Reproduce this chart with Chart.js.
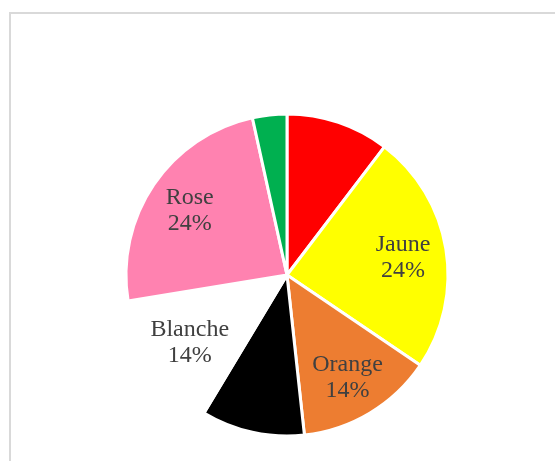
<!DOCTYPE html>
<html>
<head>
<meta charset="utf-8">
<script src="https://cdn.jsdelivr.net/npm/chart.js@4"></script>
<style>
  html, body { margin: 0; padding: 0; background: #fff; }
  body { width: 555px; height: 461px; position: relative; overflow: hidden; }
  .frame {
    position: absolute; left: 9px; top: 12px; width: 600px; height: 500px;
    border: 2px solid #d9d9d9; box-sizing: border-box;
  }
  #roses { position: absolute; left: 0; top: 0; }
</style>
</head>
<body>
<div class="frame"></div>
<canvas id="roses" width="555" height="461"></canvas>
<script>
// Couleurs des roses (nombre de fleurs)
const categories = ["Rouge", "Jaune", "Orange", "Noir", "Blanche", "Rose", "Vert"];
const counts = [3, 7, 4, 3, 4, 7, 1];
const sliceColors = ["#ff0000", "#ffff00", "#ed7d31", "#000000", "#ffffff", "#ff82b0", "#00b050"];
const showLabel = [false, true, true, false, true, true, false];

// Etiquettes "Nom / xx%" placées au milieu de chaque part
const sliceLabels = {
  id: "sliceLabels",
  afterDatasetsDraw(chart) {
    const ctx = chart.ctx;
    const meta = chart.getDatasetMeta(0);
    const total = counts.reduce((a, b) => a + b, 0);
    ctx.save();
    ctx.font = "24px 'Liberation Serif', 'Times New Roman', serif";
    ctx.fillStyle = "#404040";
    ctx.textAlign = "center";
    ctx.textBaseline = "middle";
    meta.data.forEach((arc, i) => {
      if (!showLabel[i]) return;
      const p = arc.getProps(["x", "y", "startAngle", "endAngle", "outerRadius"], true);
      const mid = (p.startAngle + p.endAngle) / 2;
      const r = p.outerRadius * 0.73;
      const x = p.x + Math.cos(mid) * r;
      const y = p.y + Math.sin(mid) * r;
      const pct = Math.round(counts[i] / total * 100) + "%";
      ctx.fillText(categories[i], x, y - 11);
      ctx.fillText(pct, x, y + 15);
    });
    ctx.restore();
  }
};

new Chart(document.getElementById("roses"), {
  type: "pie",
  data: {
    labels: categories,
    datasets: [{
      data: counts,
      backgroundColor: sliceColors,
      borderColor: "#ffffff",
      borderWidth: 3,
      radius: 161,
    }],
  },
  options: {
    responsive: false,
    animation: false,
    layout: { padding: { left: 19, top: 89, right: 0, bottom: 0 } },
    plugins: {
      legend: { display: false },
      tooltip: { enabled: false },
    },
  },
  plugins: [sliceLabels],
});
</script>
</body>
</html>
